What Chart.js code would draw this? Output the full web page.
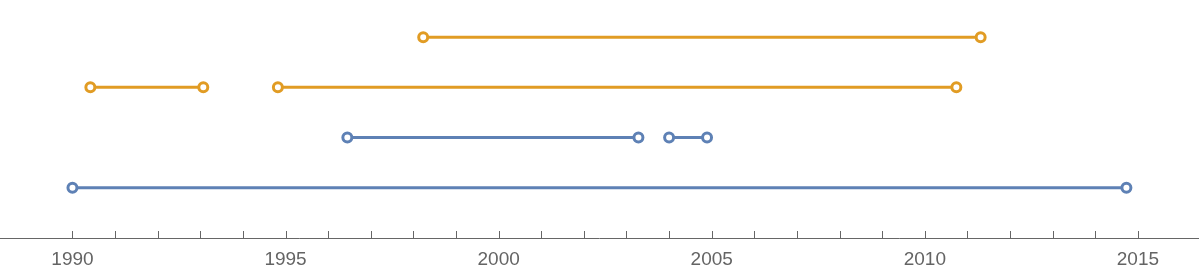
<!DOCTYPE html>
<html>
<head>
<meta charset="utf-8">
<script src="https://cdn.jsdelivr.net/npm/chart.js@4/dist/chart.umd.min.js"></script>
<style>
  html, body { margin: 0; padding: 0; background: #fff; }
  #wrap { width: 1202px; height: 271px; }
</style>
</head>
<body>
<div id="wrap"><canvas id="chart"></canvas></div>
<script>
// interval data (years)
const blueLowStarts = [1990.0];
const blueLowEnds = [2014.73];
const blueHighStarts = [1996.45, 2004.0];
const blueHighEnds = [2003.28, 2004.89];
const orangeLowStarts = [1990.42, 1994.82];
const orangeLowEnds = [1993.07, 2010.74];
const orangeHighStarts = [1998.23];
const orangeHighEnds = [2011.31];

const rowLevels = [1, 2, 3, 4];
const tickYears = [1990, 1995, 2000, 2005, 2010, 2015];

const blue = "#5E81B5";
const orange = "#E19C24";

// turn starts/ends into one broken line per row
function rowPoints(starts, ends, level) {
  const pts = [];
  starts.forEach((s, i) => {
    if (i > 0) pts.push({ x: (ends[i - 1] + s) / 2, y: null });
    pts.push({ x: s, y: level });
    pts.push({ x: ends[i], y: level });
  });
  return pts;
}

function makeDataset(starts, ends, level, color) {
  return {
    data: rowPoints(starts, ends, level),
    borderColor: color,
    borderWidth: 3,
    pointRadius: 4.5,
    pointBorderWidth: 3,
    pointBackgroundColor: "#fff",
    pointBorderColor: color,
    spanGaps: false,
    clip: false,
  };
}

// mathematica style ticks pointing up from the axis
const upTicks = {
  id: "upTicks",
  afterDraw(chart) {
    const xs = chart.scales.x;
    const ctx = chart.ctx;
    const bottom = chart.chartArea.bottom;
    ctx.save();
    ctx.strokeStyle = "#666";
    ctx.lineWidth = 1;
    xs.ticks.forEach((t) => {
      if (Math.abs(t.value - Math.round(t.value)) > 1e-6) return;
      const px = Math.round(xs.getPixelForValue(t.value)) + 0.5;
      ctx.beginPath();
      ctx.moveTo(px, bottom - 7);
      ctx.lineTo(px, bottom);
      ctx.stroke();
    });
    ctx.restore();
  },
};

new Chart(document.getElementById("chart"), {
  type: "line",
  data: {
    datasets: [
      makeDataset(blueLowStarts, blueLowEnds, rowLevels[0], blue),
      makeDataset(blueHighStarts, blueHighEnds, rowLevels[1], blue),
      makeDataset(orangeLowStarts, orangeLowEnds, rowLevels[2], orange),
      makeDataset(orangeHighStarts, orangeHighEnds, rowLevels[3], orange),
    ],
  },
  options: {
    responsive: true,
    maintainAspectRatio: false,
    animation: false,
    layout: { autoPadding: false, padding: { left: 0, right: 4, top: 0, bottom: 0 } },
    plugins: { legend: { display: false }, tooltip: { enabled: false } },
    scales: {
      x: {
        type: "linear",
        min: 1988.3,
        max: 2016.41,
        grid: { display: false, drawTicks: false, tickLength: 0 },
        border: { display: true, color: "#666", width: 1 },
        afterFit: (scale) => {
          scale.height = 33;
          scale.paddingLeft = 0;
          scale.paddingRight = 0;
        },
        ticks: {
          stepSize: 1,
          autoSkip: false,
          maxRotation: 0,
          padding: 10,
          color: "#646464",
          font: { family: "'Liberation Sans', Arial, sans-serif", size: 19 },
          callback: (v) => (tickYears.includes(v) ? String(v) : ""),
        },
      },
      y: {
        display: false,
        min: 0,
        max: 4.74,
      },
    },
  },
  plugins: [upTicks],
});
</script>
</body>
</html>
